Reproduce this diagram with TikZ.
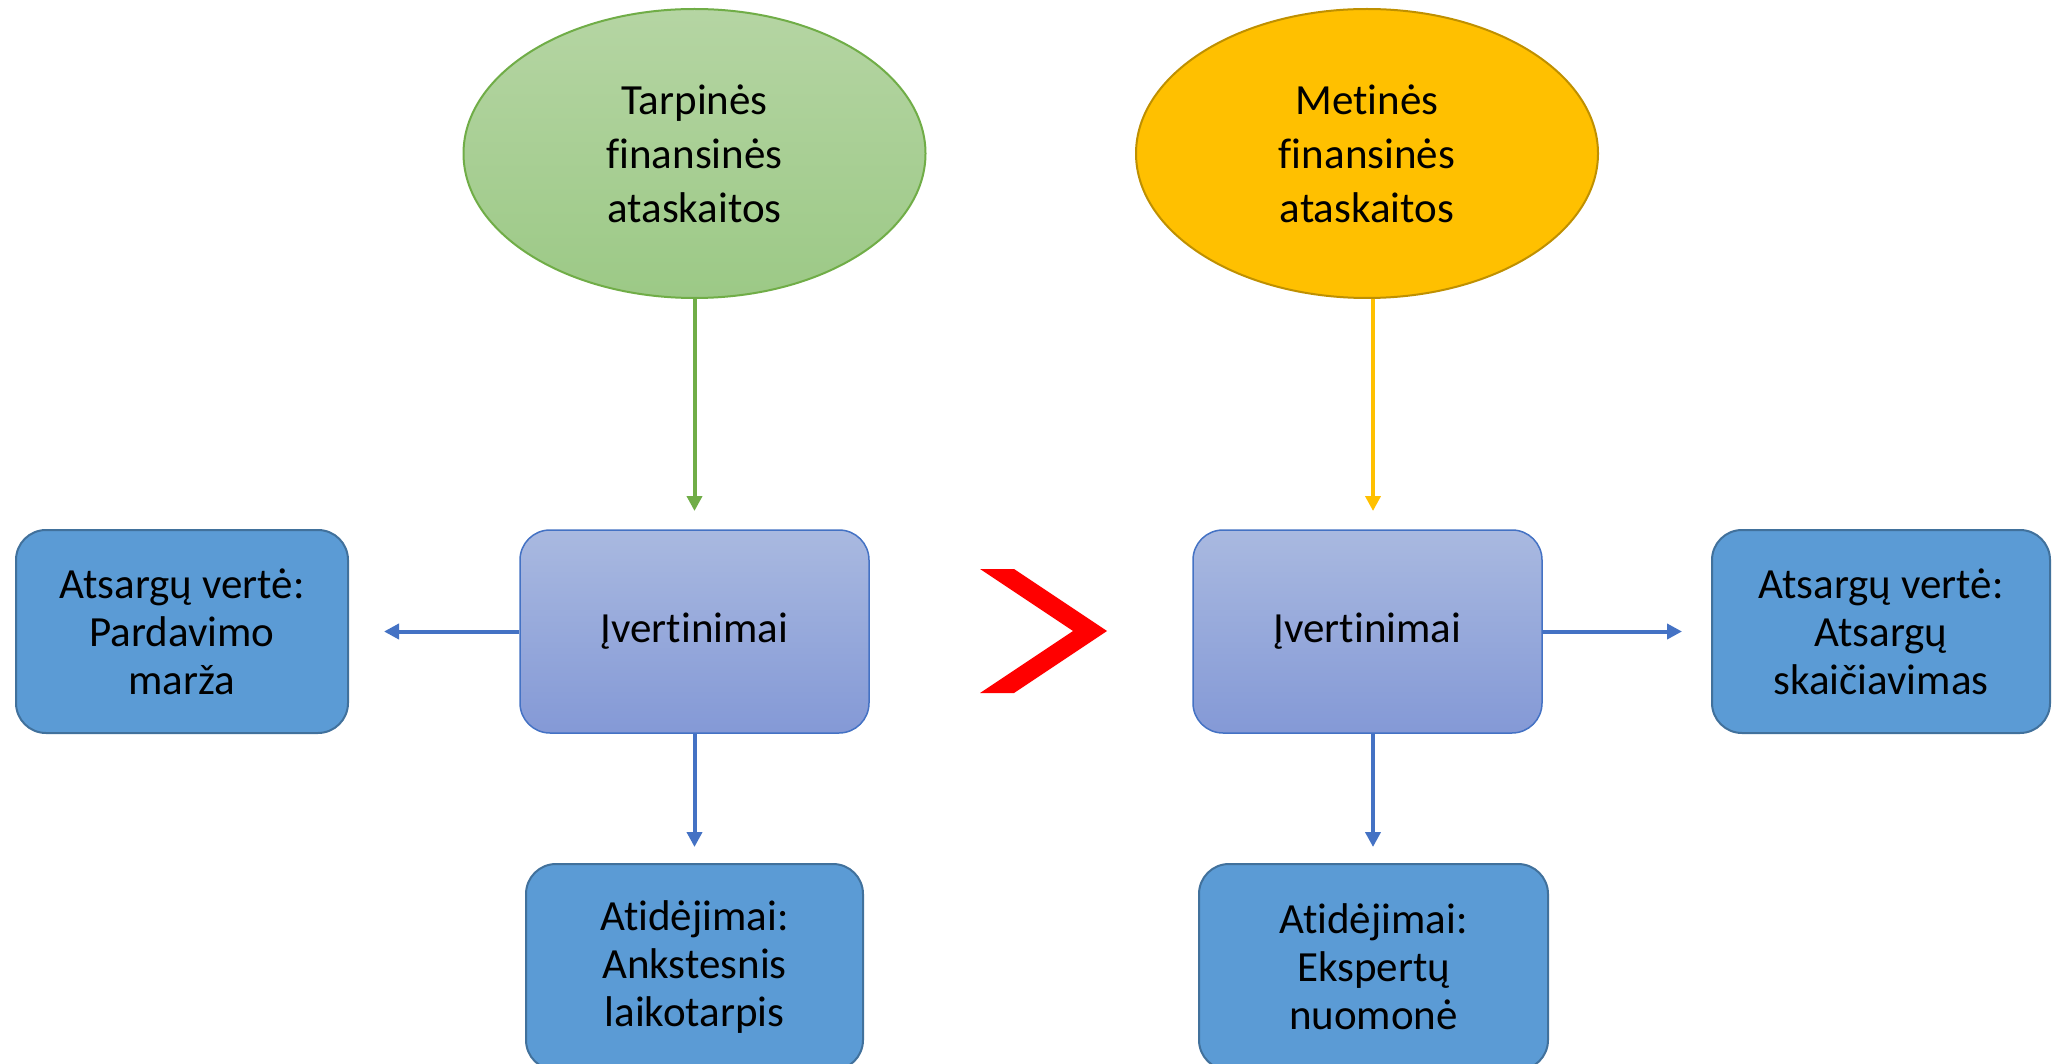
\documentclass[tikz,border=0pt]{standalone}
\usepackage{fontspec}
\setmainfont{Carlito}[Ligatures=CommonOff]
\usetikzlibrary{shapes.geometric,arrows.meta}
\definecolor{gfillt}{HTML}{B5D5A3}
\definecolor{gfillb}{HTML}{9CC986}
\definecolor{gline}{HTML}{70AD47}
\definecolor{yfill}{HTML}{FFC000}
\definecolor{yline}{HTML}{BF9000}
\definecolor{cfillt}{HTML}{A9B9E0}
\definecolor{cfillb}{HTML}{8499D6}
\definecolor{bline}{HTML}{4472C4}
\definecolor{sfill}{HTML}{5B9BD5}
\definecolor{sline}{HTML}{41719C}
\tikzset{
  txt/.style={font=\fontsize{43}{54}\selectfont, align=center, text=black, inner sep=0pt},
  btxt/.style={align=center, text=black, inner sep=0pt, font=\fontsize{43}{49}\selectfont},
  ell/.style={txt, ellipse, minimum width=462pt, minimum height=289pt, line width=2pt},
  cbox/.style={btxt, rounded corners=30pt, minimum width=349pt, minimum height=203pt, draw=bline, line width=1.5pt, top color=cfillt, bottom color=cfillb},
  sbox/.style={btxt, rounded corners=30pt, minimum height=203pt, draw=sline, line width=2pt, fill=sfill},
  arr/.style={line width=4pt, -{Triangle[length=15pt,width=15pt]}},
}
\begin{document}
\begin{tikzpicture}[x=1pt,y=-1pt]
\clip (0,0) rectangle (2053,1064);
\useasboundingbox (0,0) rectangle (2053,1064);
\fill[white] (0,0) rectangle (2053,1064);

\node[ell, draw=gline, top color=gfillt, bottom color=gfillb] (e1) at (694.5,153.5) {Tarpinės\\finansinės\\ataskaitos};
\node[ell, draw=yline, fill=yfill] (e2) at (1367,153.5) {Metinės\\finansinės\\ataskaitos};

\node[cbox] (c1) at (694.5,631.5) {Įvertinimai};
\node[cbox] (c2) at (1367.5,631.5) {Įvertinimai};

\node[sbox, minimum width=332pt] (l1) at (182,631.5) {Atsargų vertė:\\[-1pt]Pardavimo\\[-1pt]marža};
\node[sbox, minimum width=338pt] (r1) at (1881,631.5) {Atsargų vertė:\\[-1pt]Atsargų\\[-1pt]skaičiavimas};

\node[sbox, minimum width=337pt, minimum height=206pt] (b1) at (694.5,967) {Atidėjimai:\\[-1pt]Ankstesnis\\[-1pt]laikotarpis};
\node[sbox, minimum width=349pt, minimum height=206pt] (b2) at (1373.5,967) {Atidėjimai:\\[-1pt]Ekspertų\\[-1pt]nuomonė};

\coordinate (t1) at (694.5,511);
\coordinate (t2) at (1373,511);
\coordinate (t3) at (384,631.5);
\coordinate (t4) at (1682,631.5);
\coordinate (t5) at (694.5,847);
\coordinate (t6) at (1373,847);

\draw[arr, draw=gline, fill=gline] (t1 |- e1.south) -- (t1);
\draw[arr, draw=yfill, fill=yfill] (t2 |- e2.south) -- (t2);
\draw[arr, draw=bline] (c1.west) -- (t3);
\draw[arr, draw=bline] (c2.east) -- (t4);
\draw[arr, draw=bline] (c1.south) -- (t5);
\draw[arr, draw=bline] (t6 |- c2.south) -- (t6);

\fill[red] (980,569) -- (1014,569) -- (1107,631) -- (1014,693) -- (980,693) -- (1073,631) -- cycle;
\end{tikzpicture}
\end{document}
